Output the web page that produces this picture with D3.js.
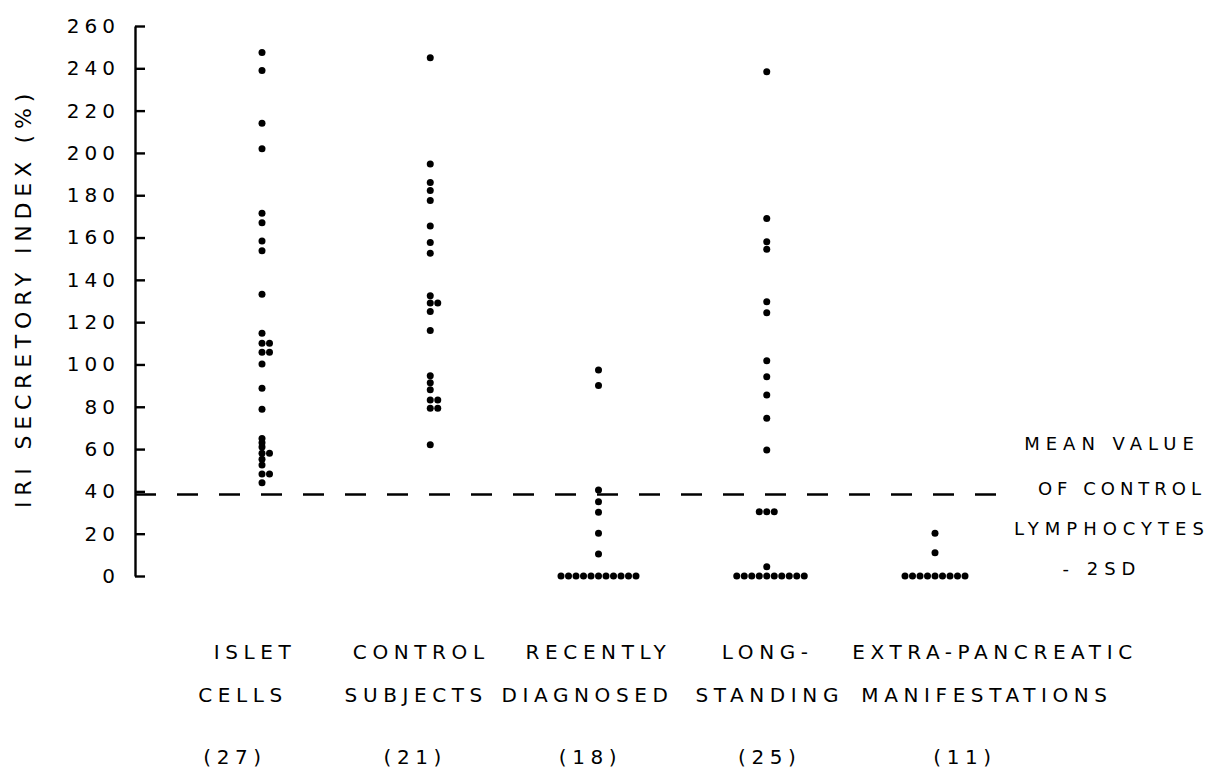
<!DOCTYPE html>
<html>
<head>
<meta charset="utf-8">
<script src="https://cdn.jsdelivr.net/npm/d3@7"></script>
<style>
  html, body { margin: 0; padding: 0; background: #fff; }
  svg { display: block; }
  text { font-family: "DejaVu Sans", sans-serif; fill: #000; }
</style>
</head>
<body>
<svg id="chart" width="1214" height="770"></svg>
<script>
// ---------- data ----------
const categoriesLine1 = ["ISLET", "CONTROL", "RECENTLY", "LONG-", "EXTRA-PANCREATIC"];
const categoriesLine2 = ["CELLS", "SUBJECTS", "DIAGNOSED", "STANDING", "MANIFESTATIONS"];

const isletCells = [247.5, 239, 214, 202, 171.5, 167, 158.4, 153.7, 133.2, 114.7, 110, 110,
  105.8, 105.8, 100.2, 88.7, 78.8, 65, 63, 61, 58, 58, 55.2, 52.5, 48.2, 48.2, 44.1];
const controlSubjects = [245, 194.8, 186, 182.2, 177.5, 165.5, 157.6, 152.6, 132.5, 129, 129,
  125, 116, 94.7, 91.4, 88, 83.2, 83.2, 79.3, 79.3, 62];
const recentlyDiagnosed = [97.4, 90, 40.7, 35.1, 30.1, 20.2, 10.4, 0, 0, 0, 0, 0, 0, 0, 0, 0, 0, 0];
const longStanding = [238.4, 169, 158, 154.5, 129.7, 124.5, 101.7, 94.2, 85.6, 74.6, 59.6,
  30.4, 30.4, 30.4, 4.4, 0, 0, 0, 0, 0, 0, 0, 0, 0, 0];
const extraPancreatic = [20.2, 11, 0, 0, 0, 0, 0, 0, 0, 0, 0];

const seriesValues = [isletCells, controlSubjects, recentlyDiagnosed, longStanding, extraPancreatic];
const yTicks = [0, 20, 40, 60, 80, 100, 120, 140, 160, 180, 200, 220, 240, 260];
const thresholdValue = 38.5;
const thresholdNote = ["MEAN VALUE", "OF CONTROL", "LYMPHOCYTES", "- 2SD"];
const yTitle = "IRI SECRETORY INDEX (%)";

// ---------- layout ----------
const svg = d3.select("#chart");
const axisX = 135;
const y = d3.scaleLinear().domain([0, 260]).range([576, 26]);
const x = d3.scalePoint().domain(categoriesLine1).range([262, 935]);

// y axis
const yAxis = d3.axisLeft(y)
  .tickValues(yTicks)
  .tickSizeInner(-10)
  .tickSizeOuter(0)
  .tickPadding(15)
  .tickFormat(d3.format("d"));

const gAxis = svg.append("g")
  .attr("transform", `translate(${axisX},0)`)
  .call(yAxis);
gAxis.select(".domain").attr("stroke", "#000").attr("stroke-width", 2.4);
gAxis.selectAll(".tick line").attr("stroke", "#000").attr("stroke-width", 2.4);
gAxis.selectAll(".tick text")
  .attr("font-family", "DejaVu Sans, sans-serif")
  .attr("font-size", 20)
  .attr("letter-spacing", 5)
  .attr("fill", "#000");

// y title
svg.append("text")
  .attr("transform", `translate(31,298) rotate(-90)`)
  .attr("text-anchor", "middle")
  .attr("font-size", 22)
  .attr("letter-spacing", 5.8)
  .text(yTitle);

// threshold dashed line
svg.append("line")
  .attr("x1", axisX).attr("x2", 1000)
  .attr("y1", y(thresholdValue)).attr("y2", y(thresholdValue))
  .attr("stroke", "#000")
  .attr("stroke-width", 2.6)
  .attr("stroke-dasharray", "21,21");

// threshold note
const noteX = [1112, 1122, 1112, 1102];
const noteY = [443, 488, 528, 568];
const noteLs = [6, 5, 6, 6];
svg.append("g").selectAll("text")
  .data(thresholdNote)
  .join("text")
  .attr("x", (d, i) => noteX[i])
  .attr("y", (d, i) => noteY[i] + 7)
  .attr("text-anchor", "middle")
  .attr("font-size", 18)
  .attr("letter-spacing", (d, i) => noteLs[i])
  .text(d => d);

// dots (duplicate values placed side by side, alternating right / left)
const step = 7.5;
const r = 3.5;
const points = [];
seriesValues.forEach((vals, ci) => {
  const groups = d3.group(vals, v => v);
  groups.forEach((arr, v) => {
    arr.forEach((_, k) => {
      const slot = k === 0 ? 0 : (k % 2 === 1 ? (k + 1) / 2 : -k / 2);
      points.push({ cat: categoriesLine1[ci], value: v, slot });
    });
  });
});

svg.append("g").selectAll("circle")
  .data(points)
  .join("circle")
  .attr("cx", d => x(d.cat) + d.slot * step)
  .attr("cy", d => y(d.value))
  .attr("r", r)
  .attr("fill", "#000");

// category labels
const labelNudge1 = [-10, -12, -3, -2, 57];
const labelNudge2 = [-22, -17, -14, 0, 49];
const labelNudge3 = [-30, -18, -11, 0, 27];
const lab = svg.append("g").attr("font-size", 20).attr("letter-spacing", 5.6).attr("text-anchor", "middle");
lab.selectAll(".l1").data(categoriesLine1).join("text").attr("class", "l1")
  .attr("x", (d, i) => x(d) + labelNudge1[i] + 3)
  .attr("y", 659).text(d => d);
lab.selectAll(".l2").data(categoriesLine2).join("text").attr("class", "l2")
  .attr("x", (d, i) => x(categoriesLine1[i]) + labelNudge2[i] + 3)
  .attr("y", 702).text(d => d);
lab.selectAll(".l3").data(seriesValues).join("text").attr("class", "l3")
  .attr("x", (d, i) => x(categoriesLine1[i]) + labelNudge3[i] + 3)
  .attr("y", 764).text(d => `(${d.length})`);
</script>
</body>
</html>
